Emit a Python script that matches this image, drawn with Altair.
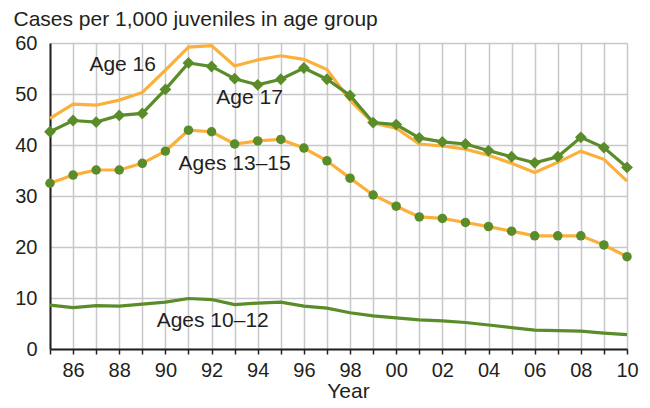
import altair as alt
import pandas as pd

years = list(range(1985, 2011))

age16 = [45.2, 48.0, 47.8, 48.8, 50.3, 54.7, 59.2, 59.5, 55.5, 56.7, 57.5, 56.8, 54.8,
         48.8, 44.3, 43.3, 40.2, 39.8, 39.2, 38.0, 36.4, 34.6, 36.6, 38.8, 37.2, 32.9]
age17 = [42.6, 44.8, 44.5, 45.8, 46.2, 50.9, 56.1, 55.4, 53.0, 51.8, 52.9, 55.1, 52.9,
         49.7, 44.4, 44.0, 41.4, 40.6, 40.2, 38.9, 37.7, 36.5, 37.7, 41.5, 39.5, 35.6]
age13_15 = [32.5, 34.1, 35.1, 35.1, 36.4, 38.8, 42.9, 42.6, 40.2, 40.8, 41.1, 39.4, 36.9,
            33.5, 30.2, 28.0, 25.9, 25.6, 24.8, 24.0, 23.1, 22.2, 22.2, 22.2, 20.4, 18.1]
age10_12 = [8.6, 8.1, 8.5, 8.4, 8.8, 9.2, 9.9, 9.7, 8.7, 9.0, 9.2, 8.4, 8.0,
            7.1, 6.5, 6.1, 5.7, 5.5, 5.2, 4.7, 4.2, 3.7, 3.6, 3.5, 3.1, 2.8]

label_text = ["Age 16", "Age 17", "Ages 13\u201315", "Ages 10\u201312"]
label_year = [1988.15, 1993.65, 1993.0, 1992.05]
label_value = [55.7, 49.2, 36.3, 5.5]

ORANGE = "#FBB03B"
GREEN = "#5B8C2A"
DARK = "#231F20"
FONT = "Liberation Sans"

df = pd.DataFrame({
    "year": years * 4,
    "value": age16 + age17 + age13_15 + age10_12,
    "series": ["Age 16"] * 26 + ["Age 17"] * 26 + ["Ages 13-15"] * 26 + ["Ages 10-12"] * 26,
})
labels = pd.DataFrame({"text": label_text, "year": label_year, "value": label_value})

x_axis = alt.Axis(values=years,
                  labelExpr="datum.value % 2 == 0 ? substring('' + datum.value, 2, 4) : ''",
                  labelOverlap=False, labelFlush=False,
                  title="Year", titleX=298, titleY=42, titleBaseline="middle",
                  titleAnchor="start", titleAlign="center",
                  ticks=True, tickSize=5, tickColor=DARK, tickWidth=1.5,
                  labelPadding=6, grid=True)
y_axis = alt.Axis(values=[0, 10, 20, 30, 40, 50, 60],
                  title="Cases per 1,000 juveniles in age group",
                  titleAngle=0, titleAlign="left", titleBaseline="middle",
                  titleX=-37, titleY=-24, ticks=False, labelPadding=13, grid=True)
x_scale = alt.Scale(domain=[1985, 2010], nice=False, zero=False)
y_scale = alt.Scale(domain=[0, 60], nice=False)

x = alt.X("year:Q", scale=x_scale, axis=x_axis)
y = alt.Y("value:Q", scale=y_scale, axis=y_axis)

base = alt.Chart(df).encode(x=x, y=y)

l16 = base.transform_filter(alt.datum.series == "Age 16").mark_line(color=ORANGE, strokeWidth=3.2)
l1315 = base.transform_filter(alt.datum.series == "Ages 13-15").mark_line(color=ORANGE, strokeWidth=3.2)
p1315 = base.transform_filter(alt.datum.series == "Ages 13-15").mark_point(
    shape="circle", filled=True, color=GREEN, size=90, opacity=1)
l17 = base.transform_filter(alt.datum.series == "Age 17").mark_line(color=GREEN, strokeWidth=3.2)
p17 = base.transform_filter(alt.datum.series == "Age 17").mark_point(
    shape="diamond", filled=True, color=GREEN, size=140, opacity=1)
l1012 = base.transform_filter(alt.datum.series == "Ages 10-12").mark_line(color=GREEN, strokeWidth=3.2)

txt = alt.Chart(labels).mark_text(font=FONT, fontSize=21, color=DARK, align="center",
                                   baseline="middle").encode(
    x=alt.X("year:Q", scale=x_scale, axis=x_axis),
    y=alt.Y("value:Q", scale=y_scale, axis=y_axis),
    text="text:N")

chart = alt.layer(l16, l1315, p1315, l17, p17, l1012, txt).properties(
    width=577, height=306,
    autosize=alt.AutoSizeParams(type="none"),
    padding={"left": 42, "top": 35, "right": 15, "bottom": 51},
).configure_view(stroke=None).configure_axis(
    labelFont=FONT, labelFontSize=20, labelColor=DARK,
    titleFont=FONT, titleFontSize=21, titleColor=DARK, titleFontWeight="normal",
    domainColor=DARK, domainWidth=2,
    gridColor="#C8C8CA", gridWidth=1.5,
)

chart.save("out.html", embed_options={"renderer": "svg", "actions": False})
